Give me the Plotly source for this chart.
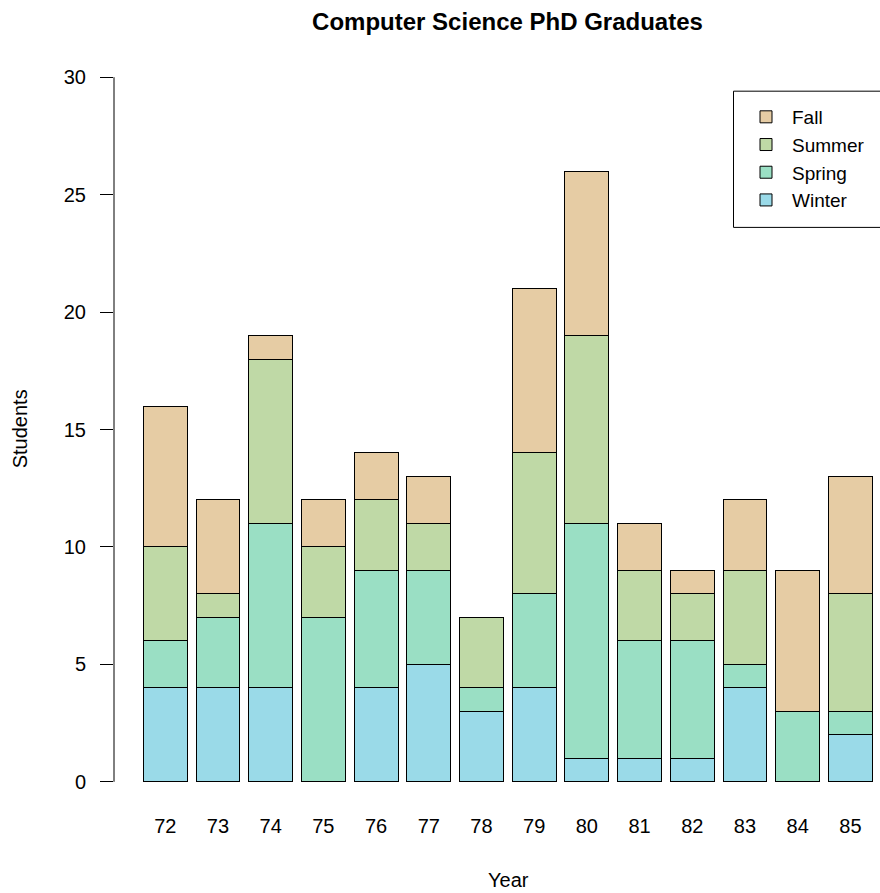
import plotly.graph_objects as go

years = ["72", "73", "74", "75", "76", "77", "78", "79", "80", "81", "82", "83", "84", "85"]
winter = [4, 4, 4, 0, 4, 5, 3, 4, 1, 1, 1, 4, 0, 2]
spring = [2, 3, 7, 7, 5, 4, 1, 4, 10, 5, 5, 1, 3, 1]
summer = [4, 1, 7, 3, 3, 2, 3, 6, 8, 3, 2, 4, 0, 5]
fall = [6, 4, 1, 2, 2, 2, 0, 7, 7, 2, 1, 3, 6, 5]

series_names = ["Winter", "Spring", "Summer", "Fall"]
series_values = [winter, spring, summer, fall]
series_colors = ["#9ADAE8", "#9ADFC4", "#BFD9A6", "#E6CCA4"]

W, H = 880, 893
L, R, T, B = 114, 0, 48.5, 83.1
pw = W - L - R
ph = H - T - B

FONT = "Liberation Sans, Arial, Helvetica, sans-serif"

fig = go.Figure()
for name, vals, col in zip(series_names, series_values, series_colors):
    fig.add_trace(go.Bar(
        x=years, y=vals, name=name,
        marker=dict(color=col, line=dict(color="black", width=1)),
    ))


def px_x(p):
    return (p - L) / pw


def px_y(p):
    return (H - B - p) / ph


fig.update_layout(
    width=W, height=H,
    margin=dict(l=L, r=R, t=T, b=B, pad=0),
    barmode="stack",
    bargap=1 - 1 / 1.2,
    plot_bgcolor="white",
    paper_bgcolor="white",
    font=dict(family=FONT, size=20, color="black"),
    title=dict(
        text="<b>Computer Science PhD Graduates</b>",
        font=dict(family=FONT, size=24, color="black"),
        x=px_x(507.5), xref="paper", xanchor="center",
        y=1 - 22 / H, yref="container", yanchor="middle",
    ),
    xaxis=dict(
        type="category",
        range=[-0.9725, 13.562],
        showgrid=False, zeroline=False, showline=False,
        ticks="", ticklabelstandoff=2,
        tickfont=dict(family=FONT, size=20, color="black"),
    ),
    yaxis=dict(
        range=[-1.2, 31.2],
        tickvals=[0, 5, 10, 15, 20, 25, 30],
        ticktext=["0", "5", "10", "15", "20", "25", "30"],
        showgrid=False, zeroline=False, showline=False,
        ticks="outside", ticklen=13, tickwidth=1, tickcolor="black",
        ticklabelstandoff=10,
        tickfont=dict(family=FONT, size=20, color="black"),
    ),
    legend=dict(
        x=px_x(740), xanchor="left",
        y=px_y(97.5), yanchor="top",
        traceorder="reversed",
        itemwidth=42,
        bgcolor="rgba(0,0,0,0)",
        borderwidth=0,
        font=dict(family=FONT, size=19, color="black"),
    ),
    shapes=[
        dict(type="line", xref="paper", yref="y", x0=0, x1=0, y0=0, y1=30,
             line=dict(color="black", width=1)),
        dict(type="rect", xref="paper", yref="paper",
             x0=px_x(733.5), x1=px_x(900), y0=px_y(227), y1=px_y(90.7),
             line=dict(color="black", width=1), fillcolor="rgba(0,0,0,0)"),
    ],
    annotations=[
        dict(text="Year", xref="paper", yref="paper", x=px_x(508), y=px_y(880),
             xanchor="center", yanchor="middle", showarrow=False,
             font=dict(family=FONT, size=20, color="black")),
        dict(text="Students", xref="paper", yref="paper", x=px_x(20), y=px_y(429),
             xanchor="center", yanchor="middle", showarrow=False, textangle=-90,
             font=dict(family=FONT, size=20, color="black")),
    ],
)

fig.write_html(
    "out.html",
    config={"displayModeBar": False},
    post_script="document.body.style.margin='0';document.body.style.padding='0';",
)
